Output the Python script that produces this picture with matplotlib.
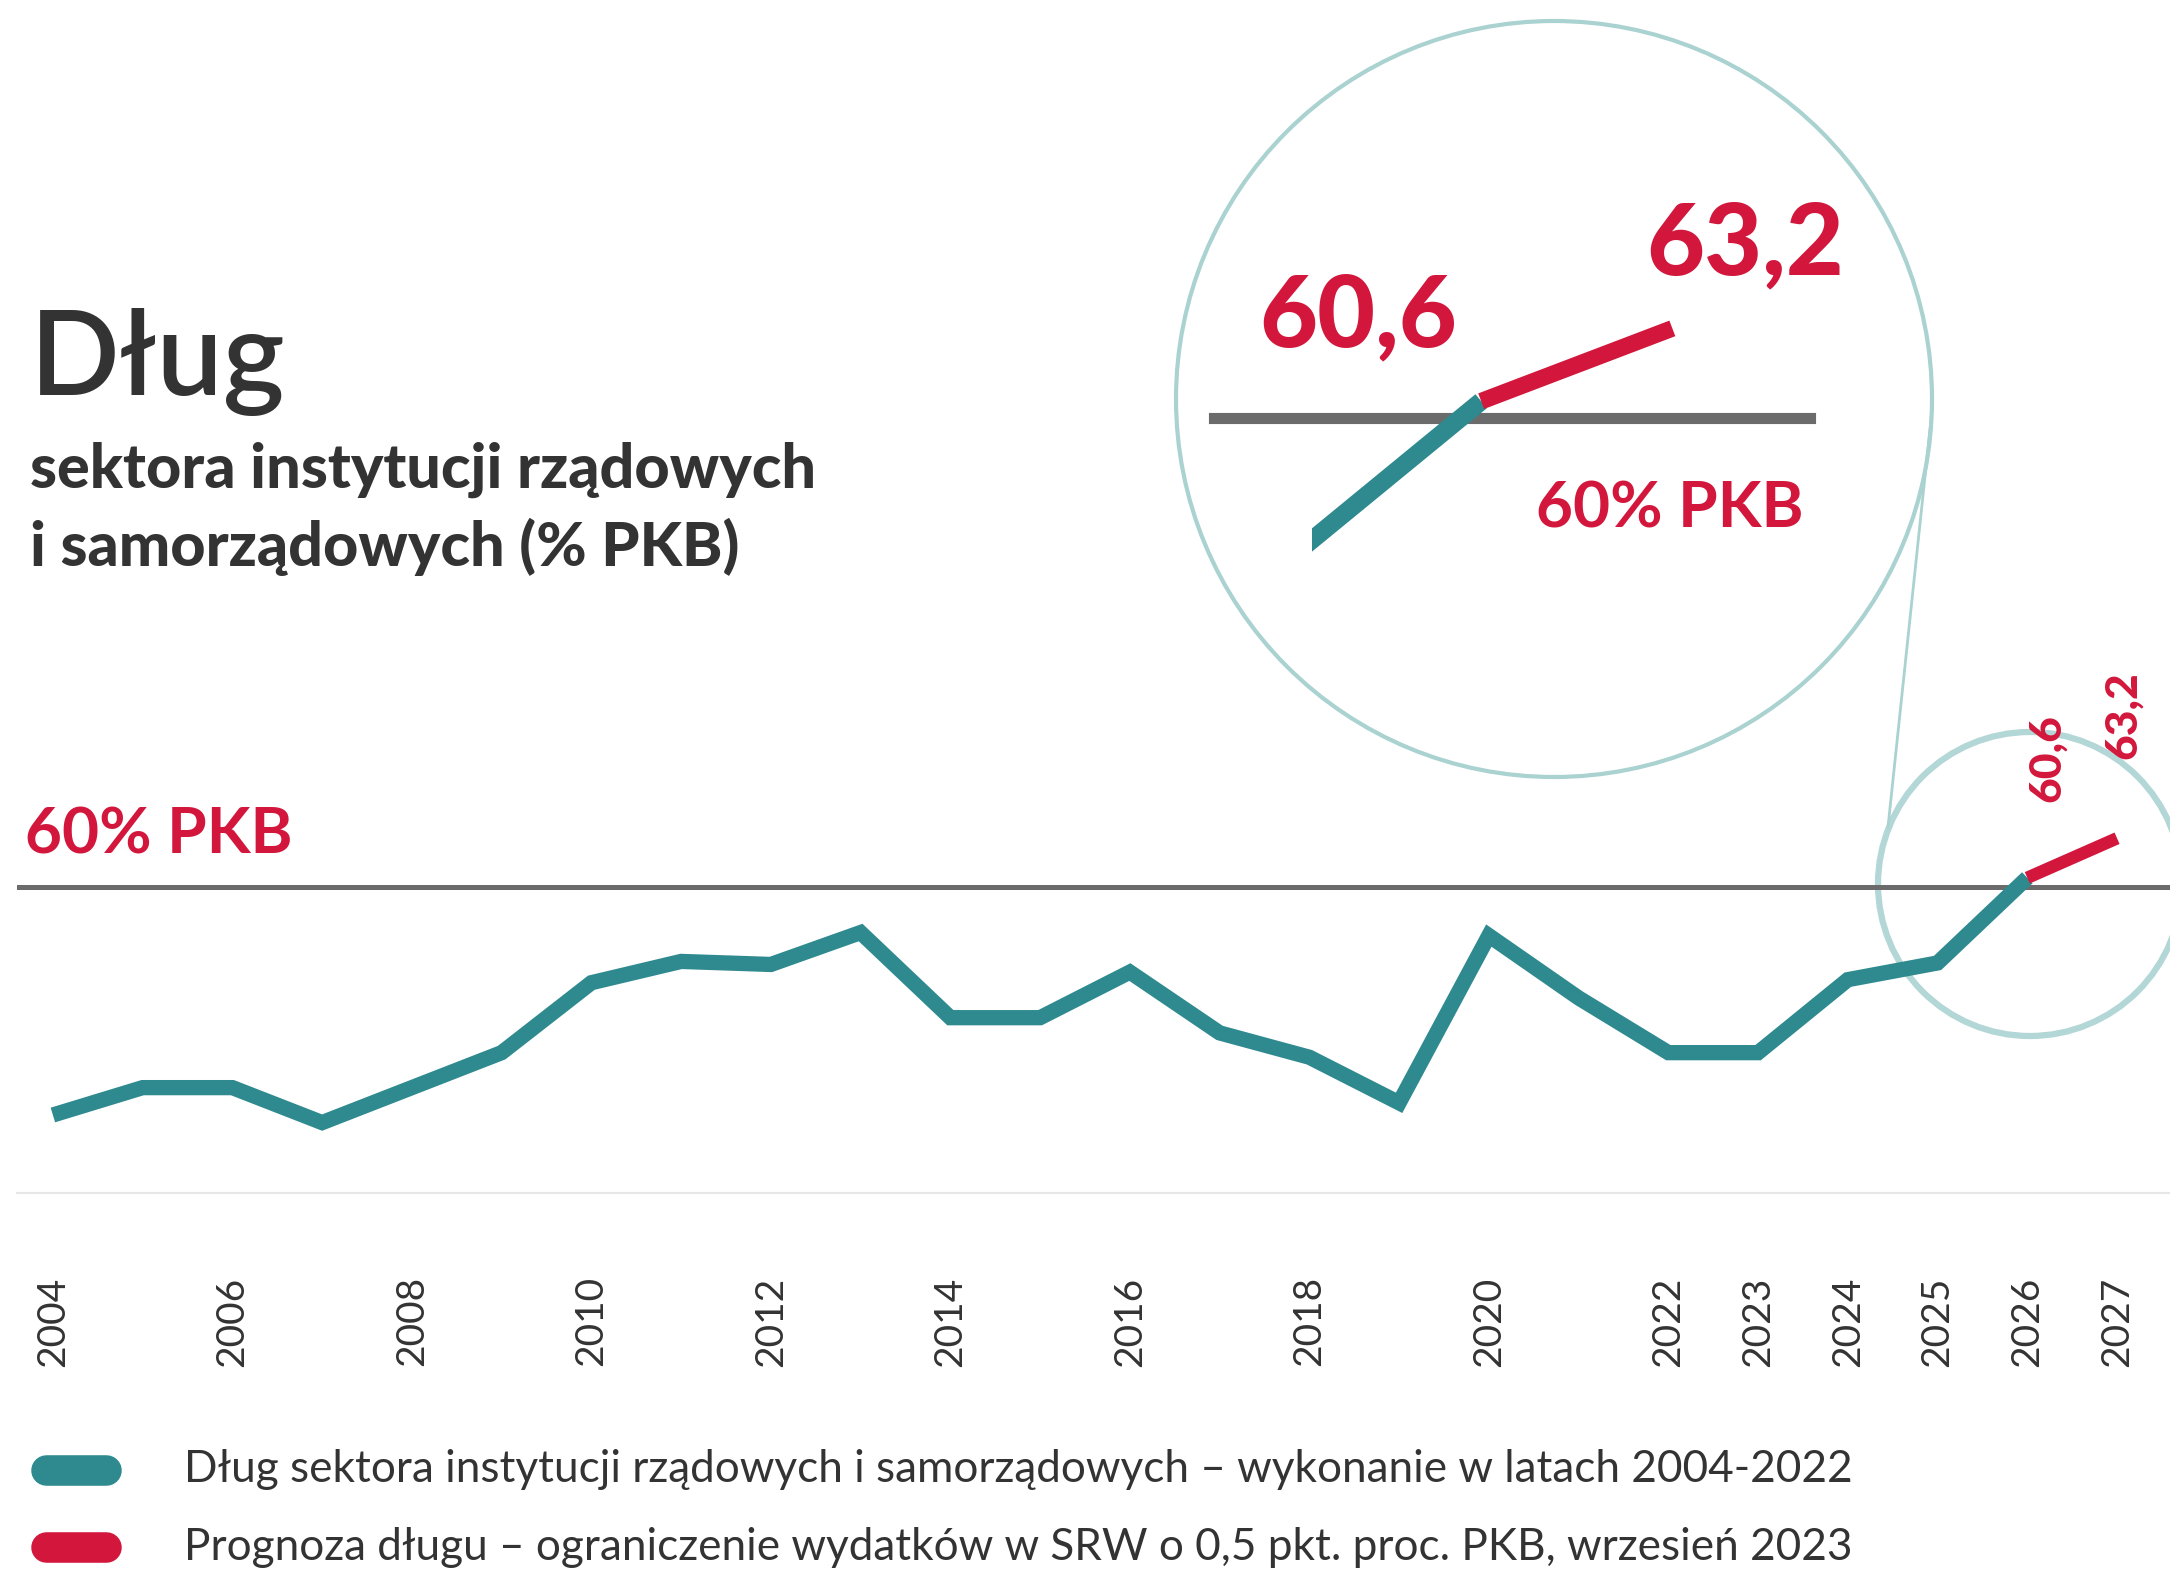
import matplotlib
matplotlib.use("Agg")
import matplotlib.pyplot as plt
from matplotlib.patches import Circle

# ---------------- data ----------------
actual_years = list(range(2004, 2027))
actual_debt = [45.0, 46.8, 46.8, 44.5, 46.8, 49.1, 53.7, 55.1, 54.9, 57.0,
               51.4, 51.4, 54.4, 50.4, 48.8, 45.8, 56.8, 52.7, 49.1, 49.1,
               53.9, 55.0, 60.6]
forecast_years = [2026, 2027]
forecast_debt = [60.6, 63.2]
threshold = 60.0
tick_years = [2004, 2006, 2008, 2010, 2012, 2014, 2016, 2018, 2020,
              2022, 2023, 2024, 2025, 2026, 2027]
tick_labels = [str(y) for y in tick_years]

title = "Dług"
subtitle = ["sektora instytucji rządowych", "i samorządowych (% PKB)"]
threshold_label = "60% PKB"
legend_labels = ["Dług sektora instytucji rządowych i samorządowych – wykonanie w latach 2004-2022",
                 "Prognoza długu – ograniczenie wydatków w SRW o 0,5 pkt. proc. PKB, wrzesień 2023"]
value_labels = ["60,6", "63,2"]

# ---------------- style ----------------
TEAL = "#2E8A8E"
RED = "#D3173C"
GRAY = "#6B6B6B"
DARK = "#333333"
CIRCLE = "#B3D6D6"
FONT = "Lato"

W, H = 2170, 1574
fig = plt.figure(figsize=(W / 100, H / 100), dpi=100)
fig.patch.set_facecolor("white")

def fig_rect(x0, y0, x1, y1):
    return [x0 / W, 1 - y1 / H, (x1 - x0) / W, (y1 - y0) / H]

# overlay (pixel coordinates) for decorations
ov = fig.add_axes([0, 0, 1, 1], zorder=0)
ov.set_xlim(0, W)
ov.set_ylim(H, 0)
ov.axis("off")

# ---------------- main chart ----------------
ax = fig.add_axes(fig_rect(17, 560, 2170, 1193), zorder=1)
ax.patch.set_alpha(0)
ax.set_xlim(2003.6, 2027.59)
ax.set_ylim(39.87, 81.5)
ax.axhline(threshold, color=GRAY, lw=3.6, zorder=1)
ax.plot(actual_years, actual_debt, color=TEAL, lw=11,
        solid_joinstyle="miter", solid_capstyle="butt", zorder=3, clip_on=False)
ax.plot(forecast_years, forecast_debt, color=RED, lw=9,
        solid_capstyle="butt", zorder=4, clip_on=False)
for sp in ["top", "left", "right"]:
    ax.spines[sp].set_visible(False)
ax.spines["bottom"].set_color("#E6E6E6")
ax.spines["bottom"].set_linewidth(1.5)
ax.set_yticks([])
ax.set_xticks(tick_years)
ax.set_xticklabels(tick_labels, rotation=90, fontsize=28, color=DARK,
                   family=FONT, va="top", ha="center")
ax.tick_params(axis="x", length=0, pad=60)

# rotated value labels near the small circle
ax.text(forecast_years[0] + 0.22, forecast_debt[0] + 7.9, value_labels[0],
        rotation=90, color=RED, fontsize=32, fontweight="black", family=FONT,
        ha="center", va="center")
ax.text(forecast_years[1] + 0.07, forecast_debt[1] + 8.1, value_labels[1],
        rotation=90, color=RED, fontsize=32, fontweight="black", family=FONT,
        ha="center", va="center")

# threshold label
ov.text(25, 835, threshold_label, color=RED, fontsize=46, fontweight="bold",
        family=FONT, ha="left", va="center")

# ---------------- circles ----------------
ov.add_patch(Circle((2030, 884), 152, fill=False, ec=CIRCLE, lw=4.5))
ov.add_patch(Circle((1554, 399), 378, fill=False, ec="#A9D2D0", lw=3))
ov.plot([1932, 1888], [410, 827], color="#A9D2D0", lw=2)

# ---------------- zoom inset ----------------
ins = fig.add_axes(fig_rect(1312, 250, 1810, 600), zorder=2)
ins.patch.set_alpha(0)
ins.set_xlim(2025.115, 2027.72)
ins.set_ylim(53.5, 66.0)
ins.axis("off")
ins.axhline(threshold, xmin=-0.197, xmax=1.0, color=GRAY, lw=8,
            clip_on=False, zorder=1)
ins.plot(actual_years, actual_debt, color=TEAL, lw=13,
         solid_capstyle="butt", zorder=2)
ins.plot(forecast_years, forecast_debt, color=RED, lw=12,
         solid_capstyle="butt", zorder=3)

ov.text(1358, 318, value_labels[0], color=RED, fontsize=72, fontweight="black",
        family=FONT, ha="center", va="center")
ov.text(1745, 246, value_labels[1], color=RED, fontsize=72, fontweight="black",
        family=FONT, ha="center", va="center")
ov.text(1670, 509, threshold_label, color=RED, fontsize=46, fontweight="bold",
        family=FONT, ha="center", va="center")

# ---------------- titles ----------------
ov.text(30, 395, title, color=DARK, fontsize=85, fontweight="semibold",
        family=FONT, ha="left", va="baseline")
ov.text(30, 470, subtitle[0], color=DARK, fontsize=44, fontweight="black",
        family=FONT, ha="left", va="center")
ov.text(30, 547, subtitle[1], color=DARK, fontsize=44, fontweight="black",
        family=FONT, ha="left", va="center")

# ---------------- legend ----------------
for y, col, lab in [(1470, TEAL, legend_labels[0]), (1547, RED, legend_labels[1])]:
    ov.plot([46, 106], [y, y], color=col, lw=22, solid_capstyle="round")
    ov.text(184, y, lab, color=DARK, fontsize=31.8, family=FONT,
            ha="left", va="center")

fig.savefig("out.png", dpi=100, facecolor="white")
